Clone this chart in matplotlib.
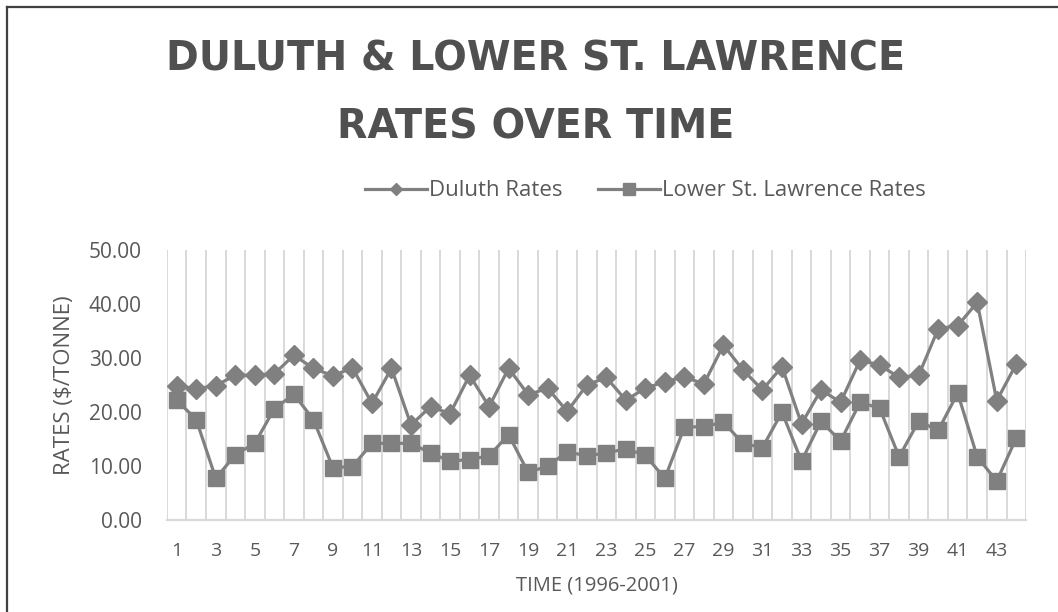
import matplotlib.pyplot as plt
from matplotlib.lines import Line2D

# values
periods = list(range(1, 45))
duluth_rates = [24.9, 24.3, 24.9, 26.8, 26.8, 27.1, 30.5, 28.1, 26.7, 28.2,
                21.6, 28.1, 17.6, 21.0, 19.7, 26.8, 21.0, 28.1, 23.2, 24.4,
                20.1, 25.0, 26.4, 22.2, 24.4, 25.6, 26.5, 25.2, 32.4, 27.8,
                24.1, 28.4, 17.8, 24.1, 21.8, 29.6, 28.7, 26.4, 26.8, 35.4,
                36.0, 40.3, 22.1, 28.9]
lawrence_rates = [22.2, 18.6, 7.7, 12.1, 14.2, 20.6, 23.3, 18.6, 9.7, 9.9,
                  14.2, 14.2, 14.2, 12.4, 10.9, 11.2, 11.9, 15.8, 8.8, 10.0,
                  12.6, 11.9, 12.4, 13.2, 12.0, 7.7, 17.2, 17.3, 18.1, 14.2,
                  13.4, 20.0, 10.9, 18.3, 14.6, 21.8, 20.7, 11.7, 18.3, 16.6,
                  23.5, 11.7, 7.2, 15.2]
y_ticks = [0, 10, 20, 30, 40, 50]

LINE = '#808080'
TEXT = '#595959'
GRID = '#d9d9d9'

plt.rcParams['font.family'] = ['Open Sans', 'DejaVu Sans']

fig = plt.figure(figsize=(10.58, 6.12), dpi=100)
ax = fig.add_axes([0.1578, 0.1503, 0.812, 0.4412])

ax.plot(periods, duluth_rates, color=LINE, lw=2.3, marker='D', ms=10,
        label='Duluth Rates')
ax.plot(periods, lawrence_rates, color=LINE, lw=2.3, marker='s', ms=12,
        label='Lower St. Lawrence Rates')

# vertical gridlines between categories
for b in range(len(periods) + 1):
    ax.axvline(b + 0.5, color=GRID, lw=1.4, zorder=0)

ax.set_xlim(0.5, len(periods) + 0.5)
ax.set_ylim(0, 50)
ax.set_xticks(periods[::2])
ax.set_xticklabels([str(p) for p in periods[::2]])
ax.set_yticks(y_ticks)
ax.set_yticklabels([f'{v:.2f}' for v in y_ticks])
ax.tick_params(length=0, colors=TEXT)
ax.tick_params(axis='x', pad=16, labelsize=14)
ax.tick_params(axis='y', pad=18, labelsize=15)

for side in ['top', 'right', 'left']:
    ax.spines[side].set_visible(False)
ax.spines['bottom'].set_color(GRID)
ax.spines['bottom'].set_linewidth(1.6)

ax.set_ylabel('RATES ($/TONNE)', color=TEXT, fontsize=16, labelpad=10)
ax.set_xlabel('TIME (1996-2001)', color=TEXT, fontsize=14.5, labelpad=11)

fig.text(0.506, 0.902, 'DULUTH & LOWER ST. LAWRENCE', ha='center', va='center',
         family='DejaVu Sans', fontweight='bold', fontsize=28.5, color='#505050')
fig.text(0.506, 0.792, 'RATES OVER TIME', ha='center', va='center',
         family='DejaVu Sans', fontweight='bold', fontsize=28.5, color='#505050')

handles = [Line2D([], [], color=LINE, lw=2.3, marker='D', ms=6),
           Line2D([], [], color=LINE, lw=2.3, marker='s', ms=8)]
fig.legend(handles, ['Duluth Rates', 'Lower St. Lawrence Rates'],
           loc='center', bbox_to_anchor=(0.61, 0.688), ncol=2, frameon=False,
           fontsize=16, labelcolor=TEXT, handlelength=2.8, handletextpad=0.1,
           columnspacing=1.6)

# chart border (only left and top edges fall inside the picture)
fig.add_artist(Line2D([0.0066, 0.0066], [0, 0.9886], transform=fig.transFigure,
                      color='#404040', lw=1.6))
fig.add_artist(Line2D([0.0066, 1.0], [0.9886, 0.9886], transform=fig.transFigure,
                      color='#404040', lw=1.6))

fig.savefig('out.png', dpi=100)
